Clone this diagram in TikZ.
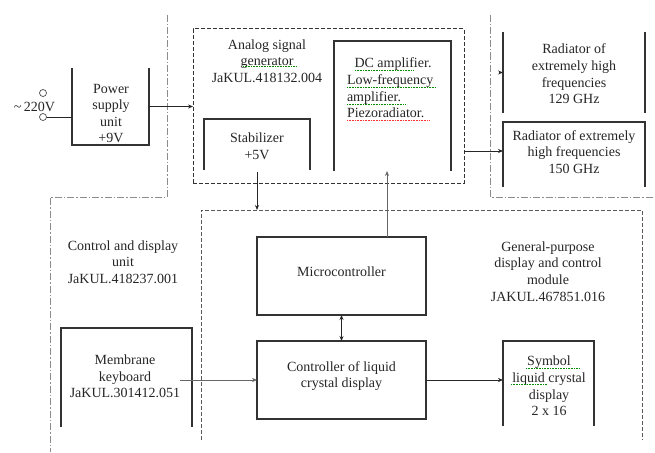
\documentclass[tikz,border=0pt]{standalone}
\usepackage{fontspec}
\setmainfont{Liberation Serif}
\usetikzlibrary{arrows.meta}
\begin{document}
\begin{tikzpicture}[x=1pt,y=-1pt,
  every node/.style={inner sep=0pt, outer sep=0pt, text=black!85,
    font=\fontsize{14}{16.6}\selectfont},
  box/.style={rectangle, minimum width=#1},
  solidline/.style={draw=black!80, line width=1.1pt},
  dashbox/.style={draw=black!80, line width=1pt, dash pattern=on 4pt off 2pt},
  gpline/.style={draw=black!65, line width=0.9pt, dash pattern=on 4pt off 2pt},
  region/.style={draw=black!45, line width=1pt, dash pattern=on 7pt off 2pt on 1.5pt off 2pt},
  conn/.style={draw=black!85, line width=0.8pt, -{Stealth[length=5pt,width=4pt]}},
  thinconn/.style={draw=black!60, line width=0.6pt, -{Stealth[length=5pt,width=4pt]}},
  terminal/.style={circle, draw=black!70, line width=0.7pt, minimum size=7pt},
  txt/.style={align=center},
  spell/.style={draw=green!55!black, line width=0.6pt, dash pattern=on 1pt off 0.6pt},
  spellred/.style={draw=red!80, line width=0.6pt, dash pattern=on 1pt off 0.6pt}
]
\useasboundingbox (0,0) rectangle (655,452);
\fill[white] (0,0) rectangle (655,452);

% region outlines (dash-dot)
\draw[region] (167,15) -- (167,197) -- (50,197) -- (50,452);
\draw[region] (490,15) -- (490,197) -- (655,197);

% boxes
\node[box=77pt, minimum height=77pt] (psu) at (110.5,106.5) {};
\node[box=271pt, minimum height=154pt, dashbox] (asg) at (328.5,106) {};
\node[box=106pt, minimum height=51pt] (stab) at (257,144.5) {};
\node[box=117pt, minimum height=130pt] (dc) at (392.5,106) {};
\node[box=142pt, minimum height=81pt] (r129) at (574,72.5) {};
\node[box=142pt, minimum height=65pt] (r150) at (574,154.5) {};
\node[box=441pt, minimum height=230pt] (gp) at (421.5,325) {};
\node[box=131pt, minimum height=99pt] (kb) at (126.5,377.5) {};
\node[box=169pt, minimum height=78pt, solidline] (mc) at (341.5,276) {};
\node[box=169pt, minimum height=78pt, solidline] (lcdc) at (341.5,380) {};
\node[box=91pt, minimum height=85pt] (sym) at (548.5,383.5) {};

% open box outlines
\draw[solidline] (psu.north west) -- (psu.south west) -- (psu.south east) -- (psu.north east);
\draw[solidline] (stab.south west) -- (stab.north west) -- (stab.north east) -- (stab.south east);
\draw[solidline] (dc.south west) -- (dc.north west) -- (dc.north east) -- (dc.south east);
\draw[solidline] (r129.north west) -- (r129.south west);
\draw[solidline] (r129.north east) -- (r129.south east);
\draw[solidline] (r150.south west) -- (r150.north west) -- (r150.north east) -- (r150.south east);
\draw[gpline] (gp.south west) -- (gp.north west) -- (gp.north east) -- (gp.south east);
\draw[solidline] (kb.south west) -- (kb.north west) -- (kb.north east) -- (kb.south east);
\draw[solidline] (sym.south west) -- (sym.north west) -- (sym.north east) -- (sym.south east);

% texts
\node[txt] (psut) at (111,113.5) {Power\\supply\\unit\\+9V};
\node[txt] (asgt) at (267,61) {Analog signal\\generator\\JaKUL.418132.004};
\node[txt] (stabt) at (257,146.5) {Stabilizer\\+5V};
\node[align=left, anchor=west] (dct) at (347,88) {\hspace*{7.5pt}DC amplifier.\\Low-frequency\\amplifier.\\Piezoradiator.};
\node[txt] (r129t) at (574,74) {Radiator of\\extremely high\\frequencies\\129 GHz};
\node[txt] (r150t) at (574,152) {Radiator of extremely\\high frequencies\\150 GHz};
\node[txt] (cdut) at (123,262) {Control and display\\unit\\JaKUL.418237.001};
\node[txt] (kbt) at (125,376.5) {Membrane\\keyboard\\JaKUL.301412.051};
\node[txt] (mct) at (341.5,272) {Microcontroller};
\node[txt] (lcdct) at (341.5,376) {Controller of liquid\\crystal display};
\node[txt] (symt) at (549,386) {Symbol\\liquid crystal\\display\\2 x 16};
\node[txt] (gpt) at (548,271.5) {General-purpose\\display and control\\module\\JAKUL.467851.016};
\node[anchor=east] (volt) at (55,107) {\textasciitilde\,220V};

% terminals
\node[terminal] (t1) at (43,93) {};
\node[terminal] (t2) at (43,117) {};

% spell-check underlines
\draw[spell] (243,66) -- (297,66);
\draw[spell] (355,70) -- (413,70);
\draw[spell] (347,87) -- (436,87);
\draw[spell] (347,104) -- (405,104);
\draw[spellred] (347,120) -- (430,120);
\draw[spell] (526,368) -- (580,368);
\draw[spell] (511,384) -- (547,384);

% connectors
\draw[draw=black!85, line width=0.9pt] (t2.east) -- (t2.east -| psu.west);
\draw[conn] (psu.east) -- (psu.east -| asg.west);
\draw[conn] ([yshift=-2pt]stab.south) -- (stab.south |- gp.north);
\coordinate (mcup) at ([xshift=-39pt]mc.north east);
\draw[conn, draw=black!60] (mcup) -- (mcup |- dc.south);
\coordinate (r150in) at ([yshift=3.5pt]r150.west);
\draw[conn] (r150in -| asg.east) -- (r150in);
\draw[conn] ([xshift=-4pt]r129.west) -- (r129.west);
\coordinate (kbout) at ([xshift=-12pt]kb.east);
\draw[thinconn] (kbout |- lcdc.west) -- (lcdc.west);
\draw[conn, line width=0.6pt] (lcdc.east) -- (lcdc.east -| sym.west);
\draw[conn, {Stealth[length=5pt,width=4pt]}-{Stealth[length=5pt,width=4pt]}] (mc.south) -- (lcdc.north);
\end{tikzpicture}
\end{document}
